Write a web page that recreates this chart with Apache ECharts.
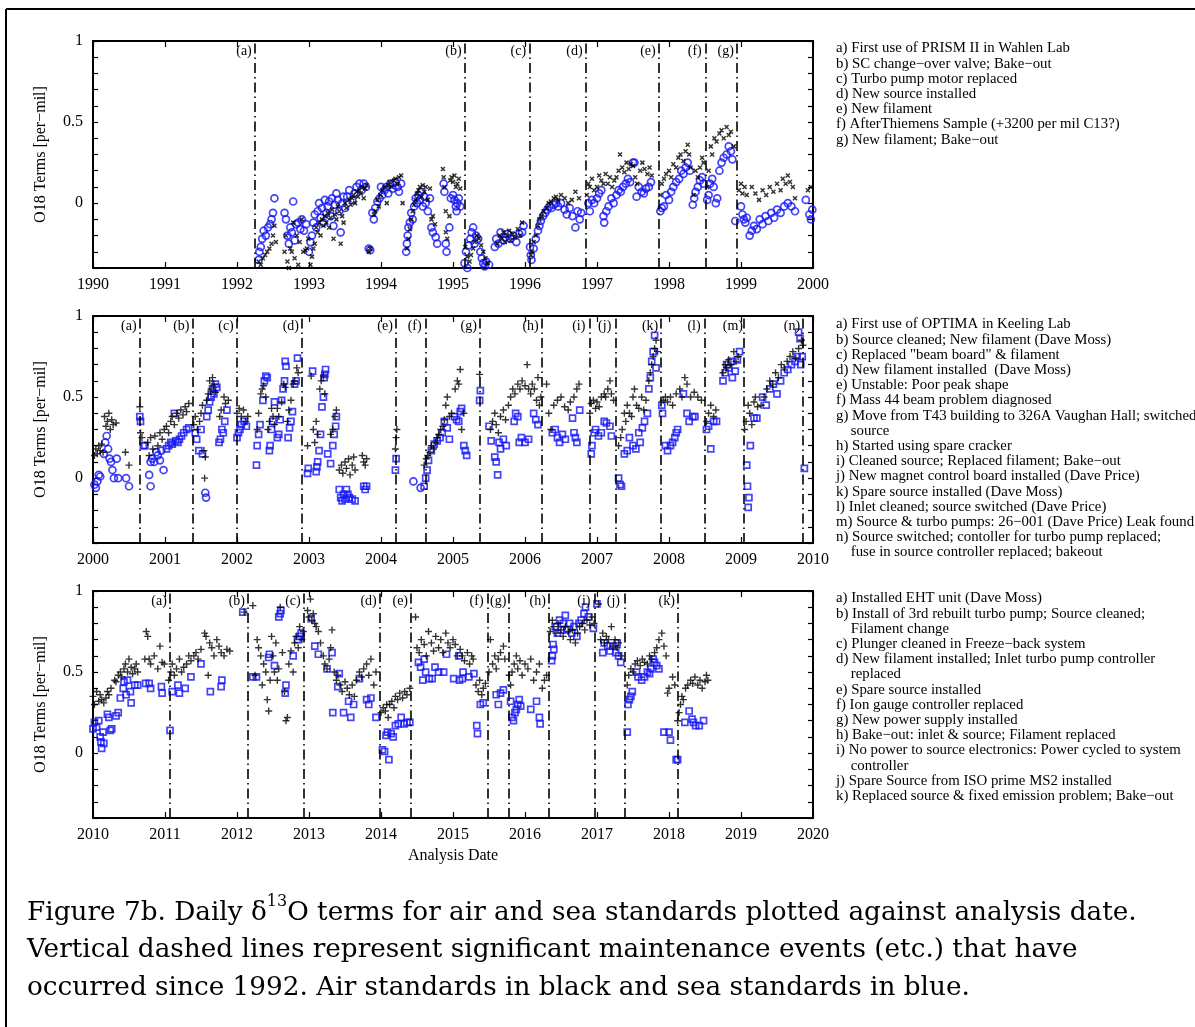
<!DOCTYPE html>
<html>
<head>
<meta charset="utf-8">
<script src="https://cdn.jsdelivr.net/npm/echarts@6/dist/echarts.min.js"></script>
<style>
body{margin:0;background:#fff;}
#main{width:1195px;height:1027px;}
</style>
</head>
<body>
<div id="main"></div>
<script>
// 面板 1: 1990-2000 (PRISM II)
var air1990s = [[1992.30,-0.36],[1992.33,-0.38],[1992.36,-0.34],[1992.39,-0.32],[1992.42,-0.3],[1992.45,-0.28],[1992.48,-0.25],[1992.5,-0.2],[1992.52,-0.14],[1992.54,-0.24],
[1992.66,-0.3],[1992.68,-0.2],[1992.7,-0.36],[1992.72,-0.4],[1992.74,-0.28],[1992.76,-0.3],[1992.78,-0.12],[1992.8,-0.34],[1992.83,-0.2],[1992.85,-0.38],[1992.87,-0.24],[1992.9,-0.1],[1992.92,-0.3],[1992.95,-0.29],[1992.97,-0.28],[1992.99,-0.22],[1993.02,-0.38],[1993.04,-0.33],
[1993.06,-0.28],[1993.08,-0.25],[1993.1,-0.15],[1993.12,-0.18],[1993.14,-0.12],[1993.16,-0.2],[1993.18,-0.1],[1993.2,-0.14],[1993.22,-0.08],[1993.24,-0.12],[1993.26,-0.06],[1993.28,-0.15],[1993.3,-0.09],[1993.32,-0.04],[1993.34,-0.22],[1993.36,-0.07],[1993.38,-0.1],[1993.4,-0.02],[1993.42,-0.05],[1993.44,-0.25],[1993.46,-0.08],[1993.48,-0.12],[1993.5,0.0],[1993.52,-0.03],
[1993.56,0.02],[1993.58,-0.01],[1993.6,0.03],[1993.62,0.05],[1993.64,0.0],[1993.66,0.07],[1993.68,0.04],[1993.7,0.08],[1993.72,0.06],[1993.74,0.1],[1993.76,0.03],[1993.78,0.09],[1993.8,0.11],[1993.83,-0.3],[1993.85,-0.28],
[1993.9,-0.07],[1993.92,-0.05],[1993.95,0.02],[1993.97,-0.02],[1993.99,0.05],
[1994.02,0.08],[1994.05,0.1],[1994.08,0.0],[1994.1,0.11],[1994.12,0.13],[1994.15,0.1],[1994.18,0.14],[1994.2,0.15],[1994.23,0.12],[1994.25,0.16],[1994.28,0.17],[1994.3,0.0],
[1994.36,-0.28],[1994.38,-0.22],[1994.4,-0.16],[1994.42,-0.1],[1994.44,-0.05],[1994.46,-0.01],[1994.48,0.02],[1994.5,0.06],[1994.52,0.08],[1994.54,0.1],[1994.56,0.04],[1994.58,0.11],[1994.6,0.07],[1994.62,0.1],[1994.65,0.02],[1994.68,0.09],[1994.7,-0.1],[1994.72,-0.08],[1994.75,-0.13],
[1994.86,0.21],[1994.87,0.16],[1994.88,0.1],[1994.9,-0.05],[1994.9,-0.18],[1994.92,-0.22],[1994.95,-0.08],[1994.96,0.14],[1994.98,0.16],[1995.0,0.13],[1995.02,0.17],[1995.04,0.1],[1995.06,0.12],[1995.08,0.15],[1995.1,0.09],
[1995.17,-0.27],[1995.2,-0.33],[1995.23,-0.36],[1995.25,-0.32],[1995.28,-0.28],[1995.3,-0.24],[1995.33,-0.2],[1995.36,-0.22],[1995.39,-0.26],[1995.42,-0.3],[1995.45,-0.34],[1995.48,-0.37],
[1995.62,-0.25],[1995.65,-0.2],[1995.68,-0.22],[1995.7,-0.18],[1995.72,-0.24],[1995.75,-0.2],[1995.78,-0.17],[1995.8,-0.23],[1995.83,-0.19],[1995.86,-0.21],[1995.9,-0.16],[1995.93,-0.2],[1995.96,-0.12],
[1996.08,-0.32],[1996.1,-0.3],[1996.12,-0.24],[1996.15,-0.2],[1996.18,-0.14],[1996.2,-0.1],[1996.23,-0.08],[1996.26,-0.05],[1996.3,-0.03],[1996.33,0.0],[1996.36,0.01],[1996.4,0.03],[1996.43,0.04],[1996.46,0.02],[1996.5,0.05],
[1996.55,0.03],[1996.6,0.0],[1996.65,0.02],[1996.7,0.07],[1996.75,0.03],
[1996.86,0.05],[1996.88,0.12],[1996.9,0.1],[1996.93,0.15],[1996.96,0.08],[1997.0,0.1],[1997.03,0.17],[1997.06,0.14],[1997.09,0.12],[1997.12,0.18],[1997.15,0.12],[1997.18,0.16],[1997.21,0.1],[1997.24,0.14],
[1997.27,0.16],[1997.3,0.2],[1997.32,0.3],[1997.35,0.22],[1997.38,0.19],[1997.41,0.25],[1997.44,0.21],[1997.47,0.24],[1997.5,0.23],[1997.53,0.16],[1997.56,0.12],[1997.6,0.2],[1997.63,0.25],[1997.66,0.21],[1997.7,0.18],[1997.73,0.22],[1997.76,0.17],
[1997.88,0.05],[1997.9,0.12],[1997.93,0.15],[1997.96,0.18],[1998.0,0.2],[1998.03,0.16],[1998.06,0.24],[1998.1,0.22],[1998.13,0.28],[1998.16,0.3],[1998.2,0.26],[1998.23,0.32],[1998.26,0.36],[1998.28,0.3],[1998.3,0.22],
[1998.34,0.05],[1998.37,0.2],[1998.4,0.16],[1998.43,0.22],[1998.46,0.28],[1998.48,0.25],
[1998.53,0.1],[1998.55,0.2],[1998.58,0.35],[1998.6,0.3],[1998.63,0.4],[1998.66,0.38],[1998.7,0.43],[1998.73,0.45],[1998.76,0.4],[1998.8,0.47],[1998.83,0.42],[1998.86,0.44],[1998.9,0.35],
[1998.97,0.08],[1999.0,0.12],[1999.02,0.06],[1999.05,0.1],[1999.08,0.05],
[1999.15,0.1],[1999.2,0.06],[1999.25,0.02],[1999.3,0.08],[1999.35,0.05],[1999.4,0.1],[1999.45,0.07],[1999.5,0.12],[1999.55,0.08],[1999.58,0.15],[1999.62,0.12],[1999.65,0.17],[1999.68,0.13],[1999.72,0.1],[1999.75,0.03],
[1999.93,0.08],[1999.97,0.1]];
var sea1990s = [[1992.3,-0.35],[1992.31,-0.3],[1992.33,-0.27],[1992.35,-0.22],[1992.37,-0.17],[1992.4,-0.2],[1992.43,-0.15],[1992.46,-0.13],[1992.48,-0.1],[1992.5,-0.06],[1992.52,0.03],
[1992.66,-0.06],[1992.68,-0.1],[1992.7,-0.2],[1992.72,-0.25],[1992.74,-0.15],[1992.76,-0.18],[1992.78,0.01],[1992.8,-0.23],[1992.82,-0.13],[1992.85,-0.12],[1992.88,-0.16],[1992.9,-0.1],[1992.93,-0.17],[1992.96,-0.13],
[1993.0,-0.3],[1993.02,-0.24],[1993.04,-0.2],[1993.06,-0.12],[1993.08,-0.07],[1993.1,-0.15],[1993.12,-0.05],[1993.14,0.0],[1993.16,-0.09],[1993.18,-0.03],[1993.2,-0.12],[1993.22,0.02],[1993.24,-0.06],[1993.26,-0.02],[1993.28,0.01],[1993.3,-0.08],[1993.32,0.03],[1993.34,-0.14],[1993.36,-0.01],[1993.38,0.06],[1993.4,0.02],[1993.42,-0.05],[1993.44,-0.18],[1993.46,0.0],[1993.48,0.04],[1993.5,-0.03],
[1993.53,0.04],[1993.56,0.08],[1993.6,0.02],[1993.63,0.06],[1993.66,0.1],[1993.7,0.12],[1993.73,0.08],[1993.76,0.12],[1993.79,0.1],[1993.83,-0.28],[1993.85,-0.29],
[1993.88,-0.06],[1993.9,-0.1],[1993.92,-0.03],[1993.95,0.01],[1993.98,0.03],[1994.0,0.1],[1994.02,0.05],[1994.05,0.08],[1994.08,0.1],[1994.1,0.06],[1994.13,0.12],[1994.16,0.09],[1994.2,0.13],[1994.23,0.1],[1994.25,0.07],[1994.28,0.12],
[1994.35,-0.3],[1994.36,-0.25],[1994.37,-0.2],[1994.38,-0.15],[1994.4,-0.12],[1994.42,-0.06],[1994.44,-0.1],[1994.46,-0.02],[1994.48,0.03],[1994.5,0.0],[1994.52,0.05],[1994.54,0.02],[1994.56,0.07],[1994.58,-0.02],[1994.6,0.04],[1994.62,0.0],[1994.65,-0.05],[1994.68,0.03],[1994.7,-0.15],[1994.72,-0.18],[1994.76,-0.21],[1994.78,-0.25],
[1994.87,0.12],[1994.88,0.07],[1994.9,-0.25],[1994.91,-0.3],[1994.95,-0.15],[1994.97,0.03],[1995.0,0.05],[1995.02,0.02],[1995.04,-0.02],[1995.05,-0.05],[1995.06,0.0],[1995.08,0.03],[1995.1,-0.02],
[1995.16,-0.37],[1995.18,-0.3],[1995.2,-0.4],[1995.22,-0.26],[1995.24,-0.22],[1995.26,-0.18],[1995.28,-0.15],[1995.3,-0.25],[1995.32,-0.2],[1995.35,-0.22],[1995.38,-0.3],[1995.4,-0.34],[1995.42,-0.37],[1995.44,-0.39],[1995.46,-0.36],[1995.5,-0.38],
[1995.58,-0.27],[1995.6,-0.22],[1995.63,-0.25],[1995.66,-0.18],[1995.7,-0.23],[1995.73,-0.21],[1995.76,-0.19],[1995.8,-0.22],[1995.84,-0.2],[1995.88,-0.24],[1995.92,-0.19],[1995.96,-0.18],[1995.98,-0.14],
[1996.07,-0.27],[1996.08,-0.32],[1996.09,-0.35],[1996.12,-0.28],[1996.15,-0.22],[1996.18,-0.17],[1996.2,-0.14],[1996.22,-0.11],[1996.25,-0.08],[1996.28,-0.06],[1996.31,-0.04],[1996.34,-0.02],[1996.37,-0.03],[1996.4,-0.01],[1996.43,0.0],[1996.46,-0.02],[1996.5,0.0],
[1996.55,-0.04],[1996.58,-0.07],[1996.62,-0.03],[1996.66,-0.08],[1996.7,-0.15],[1996.73,-0.05],[1996.76,-0.1],[1996.78,-0.06],
[1996.88,0.0],[1996.9,-0.05],[1996.93,0.02],[1996.96,0.0],[1997.0,0.03],[1997.03,0.06],[1997.06,0.08],[1997.09,-0.08],[1997.1,-0.12],[1997.13,-0.05],[1997.16,-0.02],[1997.2,0.03],[1997.23,0.0],
[1997.27,0.05],[1997.3,0.08],[1997.33,0.07],[1997.36,0.1],[1997.4,0.12],[1997.43,0.15],[1997.46,0.13],[1997.5,0.25],[1997.52,0.25],[1997.55,0.04],[1997.58,0.1],[1997.62,0.07],[1997.65,0.06],[1997.68,0.09],[1997.72,0.1],[1997.75,0.13],
[1997.88,-0.05],[1997.9,-0.03],[1997.93,-0.02],[1997.96,0.05],[1998.0,0.02],[1998.03,0.07],[1998.06,0.1],[1998.1,0.13],[1998.14,0.15],[1998.17,0.2],[1998.2,0.18],[1998.23,0.22],[1998.26,0.25],[1998.29,0.2],
[1998.33,-0.01],[1998.35,0.03],[1998.37,0.07],[1998.4,0.1],[1998.43,0.14],[1998.46,0.16],[1998.48,0.12],
[1998.53,0.02],[1998.55,0.05],[1998.57,0.12],[1998.6,0.15],[1998.62,0.1],[1998.65,0.0],[1998.67,0.03],[1998.7,0.2],[1998.73,0.25],[1998.76,0.28],[1998.8,0.3],[1998.83,0.35],[1998.86,0.32],[1998.88,0.27],[1998.92,-0.11],
[1999.0,-0.02],[1999.02,-0.07],[1999.04,-0.1],[1999.06,-0.12],[1999.08,-0.09],
[1999.12,-0.2],[1999.15,-0.17],[1999.18,-0.14],[1999.22,-0.16],[1999.26,-0.1],[1999.3,-0.13],[1999.34,-0.08],[1999.38,-0.11],[1999.42,-0.06],[1999.46,-0.09],[1999.5,-0.04],[1999.55,-0.06],[1999.6,-0.02],[1999.65,0.0],[1999.7,-0.02],[1999.75,-0.05],
[1999.9,0.02],[1999.95,-0.07],[1999.97,-0.1],[1999.99,-0.04]];

// 面板 2: 2000-2010 (OPTIMA)
var air2000s = [[2000.02,0.14],[2000.04,0.18],[2000.06,0.15],[2000.08,0.2],[2000.1,0.17],[2000.12,0.21],[2000.14,0.16],[2000.16,0.38],[2000.18,0.32],[2000.2,0.35],[2000.22,0.4],[2000.24,0.3],[2000.26,0.36],[2000.28,0.33],[2000.32,0.34],[2000.45,0.16],[2000.5,0.08],
[2000.65,0.44],[2000.66,0.28],[2000.68,0.25],
[2000.76,0.22],[2000.78,0.14],[2000.8,0.25],[2000.83,0.18],[2000.86,0.26],[2000.9,0.2],[2000.93,0.28],[2000.96,0.24],[2000.99,0.3],
[2001.02,0.32],[2001.05,0.28],[2001.08,0.35],[2001.1,0.38],[2001.13,0.33],[2001.16,0.4],[2001.19,0.37],[2001.22,0.42],[2001.25,0.39],[2001.28,0.44],[2001.3,0.41],[2001.33,0.46],
[2001.4,0.33],[2001.42,0.38],[2001.45,0.3],[2001.48,0.35],[2001.5,0.4],[2001.52,0.45],[2001.54,0.17],[2001.55,0.0],[2001.56,0.13],
[2001.58,0.48],[2001.6,0.52],[2001.62,0.6],[2001.64,0.55],[2001.66,0.62],[2001.68,0.58],[2001.7,0.53],
[2001.76,0.38],[2001.78,0.42],[2001.82,0.5],[2001.84,0.46],[2001.88,0.48],
[2002.0,0.4],[2002.03,0.43],[2002.06,0.38],[2002.09,0.42],[2002.12,0.35],[2002.15,0.38],
[2002.28,0.3],[2002.3,0.4],[2002.33,0.52],[2002.35,0.55],[2002.37,0.57],[2002.4,0.5],[2002.43,0.3],[2002.45,0.35],[2002.48,0.43],[2002.5,0.38],[2002.52,0.33],
[2002.56,0.43],[2002.58,0.38],[2002.62,0.47],[2002.65,0.58],[2002.67,0.56],[2002.7,0.35],[2002.72,0.42],[2002.75,0.48],[2002.78,0.58],[2002.8,0.6],[2002.83,0.68],[2002.85,0.65],
[2002.98,0.2],[2003.03,0.63],[2003.06,0.3],[2003.08,0.22],[2003.1,0.35],[2003.12,0.27],[2003.15,0.55],[2003.17,0.6],[2003.2,0.63],[2003.22,0.52],[2003.3,0.27],[2003.33,0.3],[2003.36,0.38],[2003.38,0.42],
[2003.42,0.05],[2003.45,0.08],[2003.47,0.03],[2003.5,0.1],[2003.52,0.06],[2003.55,0.12],[2003.57,0.02],[2003.6,0.08],[2003.62,0.13],[2003.64,0.05],
[2003.74,0.14],[2003.76,0.1],[2003.78,0.08],[2003.8,0.12],
[2004.2,0.18],[2004.21,0.25],[2004.22,0.3],
[2004.6,0.08],[2004.63,0.12],[2004.65,0.14],[2004.68,0.16],[2004.7,0.2],[2004.73,0.18],[2004.76,0.22],[2004.78,0.25],[2004.8,0.27],[2004.83,0.3],[2004.86,0.32],[2004.88,0.36],[2004.9,0.45],[2004.92,0.5],[2004.95,0.38],[2004.98,0.4],
[2005.03,0.55],[2005.06,0.6],[2005.08,0.58],[2005.1,0.67],[2005.12,0.3],[2005.15,0.4],
[2005.37,0.64],
[2005.52,0.3],[2005.55,0.35],[2005.58,0.4],[2005.6,0.33],[2005.63,0.28],[2005.66,0.38],[2005.7,0.42],[2005.73,0.36],[2005.77,0.45],
[2005.8,0.5],[2005.83,0.55],[2005.86,0.52],[2005.9,0.58],[2005.93,0.55],[2005.96,0.6],[2006.0,0.57],[2006.03,0.7],[2006.05,0.55],[2006.08,0.52],[2006.1,0.58],[2006.13,0.55],[2006.16,0.48],[2006.18,0.62],[2006.2,0.45],[2006.22,0.5],
[2006.3,0.58],[2006.33,0.4],[2006.36,0.3],[2006.4,0.45],[2006.45,0.48],[2006.5,0.5],[2006.55,0.44],[2006.6,0.42],[2006.63,0.47],[2006.68,0.5],[2006.72,0.55],[2006.75,0.58],
[2006.9,0.4],[2006.92,0.46],[2006.95,0.48],[2006.98,0.43],[2007.0,0.47],[2007.03,0.44],[2007.06,0.5],[2007.1,0.52],[2007.12,0.5],[2007.15,0.55],[2007.18,0.6],[2007.2,0.52],[2007.23,0.48],
[2007.3,0.2],[2007.33,0.25],[2007.35,0.3],[2007.38,0.4],[2007.4,0.35],[2007.42,0.45],[2007.45,0.4],[2007.48,0.38],[2007.5,0.5],[2007.52,0.55],[2007.55,0.45],[2007.58,0.43],[2007.62,0.5],[2007.65,0.42],[2007.68,0.48],
[2007.72,0.6],[2007.74,0.65],[2007.76,0.7],[2007.78,0.75],[2007.8,0.8],[2007.82,0.85],[2007.84,0.78],
[2007.92,0.48],[2007.95,0.5],[2007.98,0.47],[2008.02,0.5],[2008.05,0.45],[2008.1,0.52],[2008.15,0.55],[2008.18,0.5],[2008.22,0.62],[2008.25,0.58],[2008.3,0.5],[2008.35,0.53],[2008.4,0.5],[2008.45,0.48],
[2008.52,0.35],[2008.55,0.4],[2008.58,0.45],[2008.62,0.38],[2008.65,0.42],
[2008.75,0.65],[2008.78,0.7],[2008.8,0.68],[2008.83,0.73],[2008.86,0.7],[2008.9,0.78],[2008.93,0.72],[2008.96,0.75],
[2009.05,0.3],[2009.07,0.35],[2009.1,0.45],[2009.12,0.4],[2009.15,0.33],[2009.18,0.47],[2009.2,0.5],[2009.23,0.44],
[2009.28,0.45],[2009.32,0.5],[2009.36,0.55],[2009.4,0.6],[2009.44,0.58],[2009.48,0.65],[2009.52,0.62],[2009.56,0.7],[2009.6,0.68],[2009.64,0.72],[2009.68,0.75],[2009.72,0.78],[2009.76,0.74],[2009.8,0.8],[2009.84,0.85],[2009.86,0.82]];
var seaRing2000s = [[2000.02,-0.04],[2000.04,-0.06],[2000.06,-0.02],[2000.08,0.02],[2000.1,0.01],[2000.15,0.15],[2000.17,0.22],[2000.19,0.26],[2000.21,0.18],[2000.23,0.12],[2000.25,0.1],[2000.27,0.05],[2000.29,0.0],[2000.33,0.12],[2000.35,0.0],[2000.46,0.0],[2000.5,-0.05],
[2000.78,0.02],[2000.8,-0.05],[2000.8,0.1],[2000.82,0.12],[2000.85,0.1],[2000.88,0.16],[2000.9,0.14],[2000.93,0.11],[2000.95,0.17],[2000.98,0.05],
[2001.56,-0.09],[2001.57,-0.12],[2004.45,-0.02],[2004.55,-0.06]];
var seaBox2000s = [[2000.65,0.38],[2000.66,0.35],[2000.7,0.2],[2000.72,0.2],
[2001.02,0.18],[2001.05,0.2],[2001.08,0.22],[2001.1,0.21],[2001.13,0.4],[2001.15,0.23],[2001.18,0.22],[2001.2,0.24],[2001.23,0.26],[2001.26,0.28],[2001.3,0.3],[2001.33,0.31],
[2001.42,0.28],[2001.44,0.24],[2001.47,0.17],[2001.5,0.3],[2001.52,0.15],
[2001.58,0.38],[2001.6,0.42],[2001.62,0.47],[2001.64,0.5],[2001.66,0.55],[2001.68,0.52],[2001.7,0.58],[2001.72,0.56],
[2001.75,0.22],[2001.77,0.24],[2001.79,0.3],[2001.81,0.28],[2001.83,0.35],[2001.86,0.42],
[2002.0,0.25],[2002.02,0.28],[2002.04,0.3],[2002.06,0.33],[2002.1,0.35],[2002.13,0.32],
[2002.27,0.08],[2002.28,0.2],[2002.3,0.27],[2002.32,0.33],[2002.36,0.48],[2002.38,0.6],[2002.4,0.63],[2002.42,0.62],[2002.45,0.17],[2002.46,0.2],[2002.48,0.3],[2002.5,0.35],[2002.52,0.47],
[2002.56,0.25],[2002.58,0.27],[2002.6,0.36],[2002.62,0.48],[2002.64,0.55],[2002.66,0.6],[2002.67,0.72],[2002.68,0.69],
[2002.71,0.25],[2002.73,0.31],[2002.75,0.35],[2002.77,0.41],[2002.8,0.58],[2002.82,0.6],[2002.84,0.74],
[2002.98,0.03],[2002.99,0.06],[2003.05,0.66],[2003.1,0.04],[2003.11,0.07],[2003.12,0.1],[2003.14,0.17],[2003.16,0.27],[2003.18,0.44],[2003.2,0.5],[2003.21,0.62],[2003.22,0.64],[2003.23,0.67],[2003.26,0.15],[2003.3,0.09],[2003.33,0.2],[2003.35,0.27],[2003.37,0.32],[2003.38,0.38],
[2003.42,-0.07],[2003.44,-0.12],[2003.46,-0.14],[2003.48,-0.1],[2003.5,-0.13],[2003.52,-0.07],[2003.54,-0.1],[2003.56,-0.12],[2003.6,-0.13],[2003.64,-0.14],
[2003.76,-0.05],[2003.78,-0.07],[2003.8,-0.05],
[2004.2,0.05],[2004.21,0.12],
[2004.6,-0.05],[2004.62,0.0],[2004.64,0.05],[2004.66,0.11],[2004.7,0.17],[2004.74,0.21],[2004.78,0.23],[2004.82,0.25],[2004.85,0.28],[2004.88,0.35],[2004.92,0.31],[2004.95,0.24],
[2005.02,0.38],[2005.05,0.36],[2005.08,0.35],[2005.1,0.41],[2005.12,0.43],[2005.15,0.2],[2005.17,0.17],[2005.19,0.14],
[2005.37,0.48],[2005.38,0.54],
[2005.5,0.32],[2005.53,0.23],[2005.58,0.13],[2005.6,0.1],[2005.62,0.02],[2005.64,0.22],[2005.66,0.18],[2005.7,0.24],[2005.74,0.2],
[2005.85,0.35],[2005.87,0.4],[2005.9,0.38],[2005.92,0.22],[2005.95,0.25],[2006.0,0.22],[2006.05,0.24],[2006.12,0.4],[2006.15,0.36],[2006.18,0.33],
[2006.38,0.28],[2006.42,0.3],[2006.45,0.25],[2006.48,0.22],[2006.52,0.27],[2006.56,0.24],[2006.66,0.37],[2006.68,0.28],[2006.7,0.25],[2006.72,0.22],[2006.76,0.42],
[2006.92,0.15],[2006.93,0.2],[2006.96,0.28],[2006.98,0.3],[2007.02,0.26],[2007.06,0.28],[2007.1,0.35],[2007.13,0.34],[2007.18,0.32],[2007.2,0.26],
[2007.3,0.0],[2007.32,-0.04],[2007.34,-0.05],[2007.38,0.15],[2007.42,0.17],[2007.45,0.25],[2007.5,0.2],[2007.54,0.18],[2007.58,0.28],[2007.6,0.22],[2007.63,0.31],[2007.66,0.35],[2007.7,0.4],
[2007.72,0.55],[2007.74,0.62],[2007.76,0.72],[2007.78,0.78],[2007.8,0.88],[2007.82,0.68],
[2007.9,0.45],[2007.91,0.4],[2007.95,0.2],[2007.98,0.17],[2008.02,0.2],[2008.05,0.22],[2008.08,0.25],[2008.1,0.28],[2008.12,0.3],
[2008.2,0.52],[2008.25,0.4],[2008.28,0.35],[2008.33,0.38],[2008.36,0.38],
[2008.52,0.3],[2008.55,0.32],[2008.58,0.18],[2008.62,0.35],[2008.66,0.35],
[2008.75,0.6],[2008.78,0.65],[2008.8,0.7],[2008.83,0.68],[2008.86,0.72],[2008.88,0.62],[2008.92,0.66],[2008.95,0.73],[2008.98,0.78],
[2009.08,0.08],[2009.09,-0.05],[2009.1,-0.18],[2009.11,-0.12],[2009.13,0.2],[2009.18,0.37],[2009.22,0.37],
[2009.3,0.5],[2009.35,0.45],[2009.4,0.55],[2009.45,0.58],[2009.5,0.52],[2009.55,0.6],[2009.6,0.65],[2009.65,0.67],[2009.7,0.7],[2009.75,0.72],[2009.78,0.75],[2009.8,0.9],[2009.82,0.86],[2009.83,0.7],[2009.85,0.75],[2009.88,0.06]];

// 面板 3: 2010-2020
var air2010s = [[2010.0,0.35],[2010.02,0.3],[2010.05,0.38],[2010.08,0.32],[2010.1,0.36],[2010.12,0.33],[2010.15,0.31],[2010.18,0.34],[2010.2,0.38],[2010.22,0.36],[2010.25,0.4],
[2010.3,0.45],[2010.32,0.44],[2010.35,0.48],[2010.38,0.5],[2010.4,0.47],[2010.43,0.52],[2010.45,0.55],[2010.48,0.5],[2010.5,0.58],[2010.53,0.53],[2010.55,0.49],[2010.58,0.52],[2010.6,0.55],[2010.62,0.5],
[2010.72,0.58],[2010.74,0.75],[2010.76,0.72],[2010.78,0.58],[2010.8,0.55],[2010.85,0.6],[2010.9,0.52],[2010.93,0.66],[2010.96,0.56],[2010.99,0.55],
[2011.05,0.45],[2011.08,0.5],[2011.1,0.55],[2011.13,0.48],[2011.16,0.52],[2011.2,0.58],[2011.23,0.5],[2011.26,0.53],[2011.3,0.55],[2011.33,0.6],[2011.36,0.57],[2011.4,0.6],[2011.43,0.62],[2011.46,0.58],[2011.5,0.64],
[2011.55,0.74],[2011.57,0.72],[2011.6,0.48],[2011.62,0.68],[2011.65,0.65],[2011.68,0.6],[2011.72,0.7],[2011.75,0.66],[2011.78,0.62],[2011.82,0.6],[2011.86,0.64],[2011.9,0.63],
[2012.1,0.87],
[2012.22,0.91],[2012.25,0.48],[2012.28,0.7],[2012.3,0.65],[2012.33,0.6],[2012.35,0.42],[2012.37,0.55],[2012.4,0.5],[2012.42,0.33],[2012.44,0.26],[2012.46,0.45],[2012.48,0.72],[2012.5,0.6],[2012.52,0.5],[2012.54,0.68],[2012.56,0.45],[2012.58,0.52],[2012.6,0.9],
[2012.63,0.62],[2012.66,0.38],[2012.68,0.2],[2012.7,0.22],[2012.72,0.55],[2012.75,0.63],[2012.78,0.5],[2012.8,0.68],[2012.82,0.72],[2012.85,0.65],[2012.87,0.78],[2012.9,0.7],[2012.92,0.75],
[2012.98,0.88],[2013.0,0.84],[2013.02,0.95],[2013.04,0.82],[2013.06,0.86],[2013.08,0.8],[2013.1,0.78],[2013.13,0.75],[2013.16,0.68],[2013.2,0.6],[2013.22,0.55],[2013.25,0.52],[2013.28,0.58],[2013.3,0.65],[2013.32,0.76],
[2013.35,0.5],[2013.38,0.45],[2013.4,0.48],[2013.43,0.42],[2013.46,0.38],[2013.5,0.44],[2013.53,0.4],[2013.56,0.36],[2013.6,0.42],[2013.63,0.35],[2013.66,0.45],[2013.7,0.5],[2013.73,0.47],[2013.76,0.52],[2013.8,0.55],[2013.83,0.48],[2013.86,0.58],[2013.9,0.42],[2013.93,0.5],
[2014.0,0.25],[2014.03,0.28],[2014.06,0.26],[2014.08,0.3],[2014.1,0.22],[2014.12,0.3],[2014.15,0.32],[2014.18,0.28],[2014.2,0.35],[2014.23,0.33],[2014.26,0.37],[2014.3,0.34],[2014.33,0.38],[2014.36,0.36],[2014.4,0.4],
[2014.48,0.84],[2014.5,0.65],[2014.53,0.62],[2014.56,0.7],[2014.6,0.67],[2014.63,0.6],[2014.66,0.75],[2014.7,0.68],[2014.73,0.63],[2014.76,0.72],[2014.8,0.65],[2014.83,0.7],[2014.86,0.62],[2014.9,0.74],[2014.93,0.68],[2014.96,0.65],[2015.0,0.7],[2015.03,0.67],[2015.06,0.6],[2015.1,0.64],[2015.13,0.6],[2015.16,0.57],[2015.2,0.62],[2015.23,0.55],[2015.26,0.6],[2015.28,0.58],
[2015.32,0.42],[2015.35,0.38],[2015.37,0.45],[2015.4,0.36],[2015.42,0.4],[2015.45,0.43],
[2015.5,0.5],[2015.52,0.7],[2015.55,0.55],[2015.58,0.6],[2015.6,0.52],[2015.63,0.58],[2015.66,0.62],[2015.7,0.66],[2015.72,0.58],
[2015.78,0.48],[2015.8,0.42],[2015.82,0.5],[2015.85,0.55],[2015.88,0.6],[2015.9,0.52],[2015.93,0.57],[2015.96,0.48],[2016.0,0.55],[2016.04,0.52],[2016.08,0.58],[2016.12,0.45],[2016.16,0.5],[2016.2,0.55],[2016.24,0.4],[2016.27,0.45],[2016.3,0.48],
[2016.35,0.75],[2016.38,0.82],[2016.4,0.78],[2016.43,0.74],[2016.46,0.8],[2016.5,0.76],[2016.53,0.72],[2016.56,0.78],[2016.6,0.75],[2016.63,0.7],[2016.66,0.76],[2016.7,0.68],[2016.73,0.74],[2016.76,0.78],[2016.8,0.8],[2016.83,0.76],[2016.86,0.82],[2016.9,0.79],[2016.93,0.84],[2016.96,0.8],
[2017.02,0.92],[2017.05,0.7],[2017.08,0.74],[2017.1,0.68],[2017.13,0.72],[2017.16,0.7],[2017.2,0.78],[2017.22,0.66],[2017.25,0.7],[2017.28,0.65],[2017.3,0.68],[2017.33,0.6],
[2017.42,0.42],[2017.44,0.48],[2017.47,0.52],[2017.5,0.5],[2017.53,0.55],[2017.56,0.57],[2017.6,0.54],[2017.63,0.58],[2017.66,0.56],[2017.7,0.55],[2017.73,0.6],[2017.76,0.58],
[2017.8,0.62],[2017.83,0.65],[2017.86,0.7],[2017.9,0.74],[2017.93,0.66],[2017.96,0.6],
[2017.98,0.37],[2018.0,0.4],[2018.05,0.47],[2018.08,0.42],
[2018.12,0.2],[2018.14,0.25],[2018.16,0.3],[2018.18,0.35],[2018.2,0.33],[2018.23,0.4],[2018.26,0.42],[2018.3,0.45],[2018.33,0.43],[2018.36,0.47],[2018.4,0.42],[2018.43,0.45],[2018.46,0.4],[2018.5,0.44],[2018.52,0.48],[2018.54,0.45]];
var sea2010s = [[2010.0,0.15],[2010.02,0.19],[2010.05,0.16],[2010.08,0.2],[2010.1,0.1],[2010.11,0.07],[2010.12,0.03],[2010.14,0.13],[2010.15,0.06],[2010.2,0.24],[2010.22,0.22],[2010.24,0.14],[2010.26,0.15],[2010.32,0.23],[2010.35,0.25],
[2010.38,0.34],[2010.42,0.4],[2010.43,0.44],[2010.46,0.36],[2010.48,0.45],[2010.52,0.38],[2010.53,0.31],[2010.58,0.42],[2010.62,0.42],
[2010.73,0.43],[2010.78,0.43],[2010.8,0.4],[2010.95,0.41],[2010.96,0.37],
[2011.07,0.14],[2011.1,0.38],[2011.18,0.42],[2011.2,0.37],[2011.28,0.4],[2011.36,0.47],[2011.5,0.55],
[2011.63,0.38],[2011.78,0.41],[2011.79,0.45],
[2012.08,0.87],
[2012.22,0.47],[2012.27,0.47],[2012.44,0.59],[2012.45,0.61],[2012.52,0.54],
[2012.58,0.84],[2012.6,0.86],[2012.61,0.88],[2012.67,0.37],[2012.68,0.42],
[2012.78,0.6],[2012.84,0.7],[2012.87,0.72],[2012.89,0.74],
[2013.03,0.83],[2013.08,0.66],[2013.13,0.61],[2013.25,0.52],[2013.32,0.62],
[2013.33,0.25],[2013.4,0.41],[2013.42,0.49],[2013.48,0.25],[2013.55,0.32],[2013.58,0.22],[2013.62,0.3],
[2013.7,0.46],[2013.8,0.33],[2013.83,0.3],[2013.86,0.34],[2013.93,0.22],
[2014.02,0.02],[2014.05,0.01],[2014.07,0.11],[2014.09,0.13],[2014.11,-0.04],[2014.14,0.12],[2014.17,0.1],[2014.2,0.17],[2014.24,0.18],[2014.28,0.22],[2014.32,0.18],[2014.36,0.19],[2014.4,0.19],
[2014.52,0.56],[2014.55,0.53],[2014.58,0.45],[2014.6,0.58],[2014.62,0.5],[2014.67,0.46],[2014.71,0.46],[2014.75,0.53],[2014.8,0.5],[2014.87,0.5],[2014.91,0.61],[2015.01,0.46],[2015.08,0.6],[2015.09,0.45],[2015.13,0.46],[2015.14,0.5],[2015.22,0.47],[2015.29,0.49],
[2015.33,0.17],[2015.34,0.12],[2015.38,0.3],[2015.42,0.31],
[2015.6,0.36],[2015.63,0.3],[2015.66,0.37],[2015.7,0.39],
[2015.8,0.32],[2015.82,0.22],[2015.84,0.2],[2015.86,0.25],[2015.88,0.27],[2015.9,0.3],[2015.92,0.33],[2015.94,0.29],[2016.08,0.27],[2016.16,0.32],[2016.2,0.22],[2016.21,0.18],
[2016.37,0.57],[2016.38,0.6],[2016.39,0.67],[2016.4,0.64],[2016.42,0.78],[2016.45,0.74],[2016.48,0.82],[2016.5,0.76],[2016.53,0.8],[2016.56,0.85],[2016.58,0.76],[2016.62,0.8],[2016.65,0.74],[2016.68,0.78],[2016.72,0.72],[2016.75,0.8],[2016.78,0.82],[2016.82,0.86],[2016.84,0.9],[2016.88,0.84],[2016.95,0.77],[2017.0,0.92],
[2017.08,0.62],[2017.1,0.68],[2017.15,0.66],[2017.18,0.63],[2017.22,0.66],[2017.26,0.62],[2017.28,0.68],[2017.3,0.6],[2017.33,0.56],
[2017.42,0.13],[2017.43,0.3],[2017.45,0.33],[2017.47,0.35],[2017.49,0.38],[2017.55,0.5],[2017.57,0.47],[2017.62,0.45],[2017.66,0.47],[2017.7,0.5],[2017.73,0.49],
[2017.75,0.52],[2017.78,0.58],[2017.8,0.56],[2017.83,0.54],[2017.86,0.52],
[2017.93,0.13],[2018.0,0.13],[2018.02,0.08],[2018.1,-0.04],[2018.12,-0.04],
[2018.22,0.19],[2018.28,0.26],[2018.32,0.21],[2018.34,0.19],[2018.37,0.17],[2018.42,0.17],[2018.48,0.2]];

// 维护事件 (竖虚线)
var events1990s = [1992.25, 1995.16, 1996.06, 1996.84, 1997.86, 1998.51, 1998.94];
var events2000s = [2000.65, 2001.38, 2002.0, 2002.9, 2004.21, 2004.62, 2005.37, 2006.23, 2006.9, 2007.26, 2007.895, 2008.5, 2009.04, 2009.86];
var events2010s = [2011.07, 2012.15, 2012.93, 2013.98, 2014.42, 2015.48, 2015.78, 2016.33, 2016.97, 2017.385, 2018.12];
var eventTags = ['a','b','c','d','e','f','g','h','i','j','k','l','m','n'];

var notes1990s = ['a) First use of PRISM II in Wahlen Lab','b) SC change\u2212over valve; Bake\u2212out','c) Turbo pump motor replaced','d) New source installed','e) New filament','f) AfterThiemens Sample (+3200 per mil C13?)','g) New filament; Bake\u2212out'];
var notes2000s = ['a) First use of OPTIMA in Keeling Lab','b) Source cleaned; New filament (Dave Moss)','c) Replaced "beam board" & filament','d) New filament installed  (Dave Moss)','e) Unstable: Poor peak shape','f) Mass 44 beam problem diagnosed','g) Move from T43 building to 326A Vaughan Hall; switched','    source','h) Started using spare cracker','i) Cleaned source; Replaced filament; Bake\u2212out','j) New magnet control board installed (Dave Price)','k) Spare source installed (Dave Moss)','l) Inlet cleaned; source switched (Dave Price)','m) Source & turbo pumps: 26\u2212001 (Dave Price) Leak found','n) Source switched; contoller for turbo pump replaced;','    fuse in source controller replaced; bakeout'];
var notes2010s = ['a) Installed EHT unit (Dave Moss)','b) Install of 3rd rebuilt turbo pump; Source cleaned;','    Filament change','c) Plunger cleaned in Freeze\u2212back system','d) New filament installed; Inlet turbo pump controller','    replaced','e) Spare source installed','f) Ion gauge controller replaced','g) New power supply installed','h) Bake\u2212out: inlet & source; Filament replaced','i) No power to source electronics: Power cycled to system','    controller','j) Spare Source from ISO prime MS2 installed','k) Replaced source & fixed emission problem; Bake\u2212out'];

var yTicks = [0, 0.5, 1];
var decadeStart = [1990, 2000, 2010];

var SERIF = '"Liberation Serif", serif';
var BLUE = '#1414f5';
var gridTop = [41, 316, 591];
var myChart = echarts.init(document.getElementById('main'));

function yLabel(v){
	for(var i=0;i<yTicks.length;i++){
		if(Math.abs(v-yTicks[i])<1e-6) return String(yTicks[i]);
	}
	return '';
}

var grids = [], xAxes = [], yAxes = [], series = [];
for(var g=0; g<3; g++){
	grids.push({left:93, top:gridTop[g], width:720, height:227, show:true, borderColor:'#000', borderWidth:2});
	var x0 = decadeStart[g];
	// 下方、上方的 x 轴
	xAxes.push({gridIndex:g, type:'value', min:x0, max:x0+10, interval:1,
		axisLine:{onZero:false, lineStyle:{color:'#000', width:2}},
		axisTick:{inside:true, length:6, lineStyle:{color:'#000', width:1.2}},
		axisLabel:{color:'#000', fontFamily:SERIF, fontSize:16, margin:9, formatter:function(v){ return String(v); }},
		splitLine:{show:false},
		name: g==2 ? 'Analysis Date' : '', nameLocation:'middle', nameGap:30,
		nameTextStyle:{color:'#000', fontFamily:SERIF, fontSize:16}});
	xAxes.push({gridIndex:g, type:'value', position:'top', min:x0, max:x0+10, interval:1,
		axisLine:{onZero:false, lineStyle:{color:'#000', width:2}},
		axisTick:{inside:true, length:6, lineStyle:{color:'#000', width:1.2}},
		axisLabel:{show:false}, splitLine:{show:false}});
	// 左、右 y 轴
	yAxes.push({gridIndex:g, type:'value', min:-0.4, max:1, interval:0.1,
		axisLine:{onZero:false, lineStyle:{color:'#000', width:2}},
		axisTick:{inside:true, length:5, lineStyle:{color:'#000', width:1.2}},
		axisLabel:{color:'#000', fontFamily:SERIF, fontSize:16, margin:10, formatter:yLabel},
		splitLine:{show:false},
		name:'O18 Terms [per\u2212mil]', nameLocation:'middle', nameGap:44, nameRotate:90,
		nameTextStyle:{color:'#000', fontFamily:SERIF, fontSize:16}});
	yAxes.push({gridIndex:g, type:'value', position:'right', min:-0.4, max:1, interval:0.1,
		axisLine:{onZero:false, lineStyle:{color:'#000', width:2}},
		axisTick:{inside:true, length:5, lineStyle:{color:'#000', width:1.2}},
		axisLabel:{show:false}, splitLine:{show:false}});
}

function eventLine(list){
	return {
		silent:true, symbol:'none', animation:false,
		lineStyle:{color:'#000', width:1.6, type:[10,4,1.5,4]},
		label:{show:true, position:'end', color:'#000', fontFamily:SERIF, fontSize:14, offset:[-11,22]},
		data:list.map(function(v,i){ return {xAxis:v, label:{formatter:'('+eventTags[i]+')'}}; })
	};
}

var RING = {color:'rgba(0,0,0,0)', borderColor:BLUE, borderWidth:1.7};
var CROSS = 'path://M0,0L10,10M10,0L0,10';
var PLUS = 'path://M5,0L5,10M0,5L10,5';

// 面板 1
series.push({type:'scatter', xAxisIndex:0, yAxisIndex:0, data:sea1990s, symbol:'circle', symbolSize:7, itemStyle:RING});
series.push({type:'scatter', xAxisIndex:0, yAxisIndex:0, data:air1990s, symbol:CROSS, symbolSize:4,
	itemStyle:{color:'rgba(0,0,0,0)', borderColor:'#000', borderWidth:1.5}, markLine:eventLine(events1990s)});
// 面板 2
series.push({type:'scatter', xAxisIndex:2, yAxisIndex:2, data:seaRing2000s, symbol:'circle', symbolSize:7, itemStyle:RING});
series.push({type:'scatter', xAxisIndex:2, yAxisIndex:2, data:seaBox2000s, symbol:'rect', symbolSize:6, itemStyle:RING});
series.push({type:'scatter', xAxisIndex:2, yAxisIndex:2, data:air2000s, symbol:PLUS, symbolSize:7,
	itemStyle:{color:'rgba(0,0,0,0)', borderColor:'#000', borderWidth:1.4}, markLine:eventLine(events2000s)});
// 面板 3
series.push({type:'scatter', xAxisIndex:4, yAxisIndex:4, data:sea2010s, symbol:'rect', symbolSize:6, itemStyle:RING});
series.push({type:'scatter', xAxisIndex:4, yAxisIndex:4, data:air2010s, symbol:PLUS, symbolSize:7,
	itemStyle:{color:'rgba(0,0,0,0)', borderColor:'#000', borderWidth:1.4}, markLine:eventLine(events2010s)});

// 右侧说明文字 + 图注
var noteTop = [41, 317, 591];
var noteLists = [notes1990s, notes2000s, notes2010s];
var graphics = [
	{type:'line', shape:{x1:6, y1:9, x2:1195, y2:9}, style:{stroke:'#000', lineWidth:2}},
	{type:'line', shape:{x1:6, y1:9, x2:6, y2:1027}, style:{stroke:'#000', lineWidth:2}}
];
for(var n=0; n<3; n++){
	graphics.push({type:'text', left:836, top:noteTop[n],
		style:{text:noteLists[n].join('\n'), fill:'#000', font:'14.8px "Liberation Serif"', lineHeight:15.2}});
}
graphics.push({type:'text', left:27, top:894, style:{
	text:'Figure 7b. Daily \u03b4{sup|13}O terms for air and sea standards plotted against analysis date.\nVertical dashed lines represent significant maintenance events (etc.) that have\noccurred since 1992. Air standards in black and sea standards in blue.',
	fill:'#000', font:'26.3px "DejaVu Serif"', lineHeight:37.5,
	rich:{sup:{fontSize:16, fontFamily:'DejaVu Serif', verticalAlign:'top', lineHeight:30, fill:'#000'}}
}});

myChart.setOption({
	backgroundColor:'#fff',
	animation:false,
	grid:grids,
	xAxis:xAxes,
	yAxis:yAxes,
	series:series,
	graphic:graphics
});
</script>
</body>
</html>
